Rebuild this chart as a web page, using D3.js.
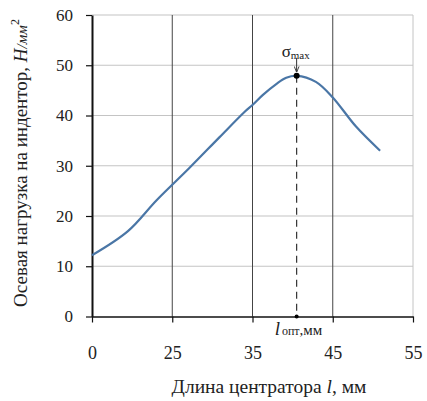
<!DOCTYPE html>
<html>
<head>
<meta charset="UTF-8">
<style>
    * { margin: 0; padding: 0; }
    body { background: #fff; }
    text { font-family: "Liberation Serif", "DejaVu Serif", serif; fill: #222; }
</style>
<script src="https://d3js.org/d3.v7.min.js"></script>
</head>
<body>
<svg id="chart" width="427" height="401"></svg>
<script>
    // x ticks are equally spaced in the picture (0, 25, 35, 45, 55)
    var xTicks = [0, 25, 35, 45, 55];
    var yTicks = [0, 10, 20, 30, 40, 50, 60];

    // curve
    var lengths = [0, 11.2, 20.2, 27.1, 30.9, 34.0, 35, 36.3, 38.0, 39.2, 40.5, 42.9, 45, 47.9, 50.9];
    var loads   = [12.2, 17.0, 23.2, 29.5, 35.7, 40.7, 42.1, 44.1, 46.3, 47.5, 47.9, 46.7, 43.6, 37.8, 33.0];

    var peak = { l: 40.5, v: 47.9 };

    var svg = d3.select("#chart"),
        mLeft = 92, mTop = 15,
        width = 321, height = 301.5;

    var g = svg.append("g").attr("transform", "translate(" + mLeft + "," + mTop + ")");

    var x = d3.scaleLinear()
        .domain(xTicks)
        .range(xTicks.map(function (d, i) { return i * width / (xTicks.length - 1); }));
    var y = d3.scaleLinear().domain([0, 60]).range([height, 0]);

    // horizontal grid
    g.selectAll(".hgrid")
        .data(yTicks.slice(1))
        .enter().append("line")
        .attr("x1", 0).attr("x2", width)
        .attr("y1", function (d) { return y(d); })
        .attr("y2", function (d) { return y(d); })
        .attr("stroke", "#c4c4c4").attr("stroke-width", 1.2);

    // vertical grid
    g.selectAll(".vgrid")
        .data(xTicks.slice(1))
        .enter().append("line")
        .attr("x1", function (d) { return x(d); })
        .attr("x2", function (d) { return x(d); })
        .attr("y1", 0).attr("y2", height)
        .attr("stroke", function (d, i) { return i == xTicks.length - 2 ? "#c4c4c4" : "#444"; })
        .attr("stroke-width", 1);

    // x axis
    var xAxis = g.append("g")
        .attr("transform", "translate(0," + height + ")")
        .call(d3.axisBottom(x).tickValues(xTicks).tickSize(6).tickPadding(24).tickSizeOuter(0));
    xAxis.select(".domain").attr("stroke", "#111").attr("stroke-width", 1.6);
    xAxis.selectAll(".tick line").attr("stroke", "#111").attr("stroke-width", 1.2);
    xAxis.selectAll("text").attr("font-size", "18px").attr("fill", "#333")
        .attr("font-family", "Liberation Serif");

    // y axis
    var yAxis = g.append("g")
        .call(d3.axisLeft(y).tickValues(yTicks).tickSize(6).tickPadding(13).tickSizeOuter(0));
    yAxis.select(".domain").attr("stroke", "#111").attr("stroke-width", 2);
    yAxis.selectAll(".tick line").attr("stroke", "#111").attr("stroke-width", 1.2);
    yAxis.selectAll("text").attr("font-size", "17px").attr("fill", "#222")
        .attr("font-family", "Liberation Serif");

    // curve
    var line = d3.line()
        .x(function (d, i) { return x(lengths[i]); })
        .y(function (d) { return y(d); })
        .curve(d3.curveCatmullRom.alpha(0.5));

    g.append("path")
        .datum(loads)
        .attr("d", line)
        .attr("fill", "none")
        .attr("stroke", "#4a76a6")
        .attr("stroke-width", 2.2);

    // optimum marker
    g.append("line")
        .attr("x1", x(peak.l)).attr("x2", x(peak.l))
        .attr("y1", y(peak.v)).attr("y2", y(0))
        .attr("stroke", "#333").attr("stroke-width", 1.2)
        .attr("stroke-dasharray", "7,5");
    g.append("circle").attr("cx", x(peak.l)).attr("cy", y(peak.v)).attr("r", 3).attr("fill", "#000");
    g.append("circle").attr("cx", x(peak.l)).attr("cy", y(0)).attr("r", 2).attr("fill", "#000");

    svg.append("defs").append("marker")
        .attr("id", "arr").attr("viewBox", "0 0 10 10")
        .attr("refX", 9).attr("refY", 5)
        .attr("markerWidth", 6).attr("markerHeight", 6)
        .attr("orient", "auto")
        .append("path").attr("d", "M0,1 L10,5 L0,9").attr("fill", "none")
        .attr("stroke", "#333").attr("stroke-width", 1.5);

    g.append("line")
        .attr("x1", x(peak.l)).attr("x2", x(peak.l))
        .attr("y1", y(peak.v) - 18).attr("y2", y(peak.v) - 4)
        .attr("stroke", "#333").attr("stroke-width", 1)
        .attr("marker-end", "url(#arr)");

    var sig = g.append("text")
        .attr("x", x(peak.l) - 15).attr("y", y(peak.v) - 19)
        .attr("font-size", "17px");
    sig.append("tspan").text("σ");
    sig.append("tspan").attr("font-size", "11px").attr("dy", 2).text("max");

    var lopt = g.append("text")
        .attr("x", x(peak.l) - 22).attr("y", y(0) + 18)
        .attr("font-size", "16px");
    lopt.append("tspan").attr("font-style", "italic").attr("font-size", "19px").text("l");
    lopt.append("tspan").attr("font-size", "12px").attr("dx", 2).text("опт");
    lopt.append("tspan").attr("font-size", "15px").text(",мм");

    // axis titles
    var xt = svg.append("text")
        .attr("x", 269).attr("y", 393)
        .attr("text-anchor", "middle")
        .attr("font-size", "19.5px");
    xt.append("tspan").text("Длина центратора ");
    xt.append("tspan").attr("font-style", "italic").text("l");
    xt.append("tspan").text(", мм");

    var yt = svg.append("text")
        .attr("transform", "translate(27,163) rotate(-90)")
        .attr("text-anchor", "middle")
        .attr("font-size", "19px");
    yt.append("tspan").text("Осевая нагрузка  на индентор, ");
    yt.append("tspan").attr("font-style", "italic").text("Н");
    yt.append("tspan").attr("font-style", "italic").attr("font-size", "15px").text("/мм");
    yt.append("tspan").attr("font-size", "12px").attr("dy", -8).text("2");
</script>
</body>
</html>
